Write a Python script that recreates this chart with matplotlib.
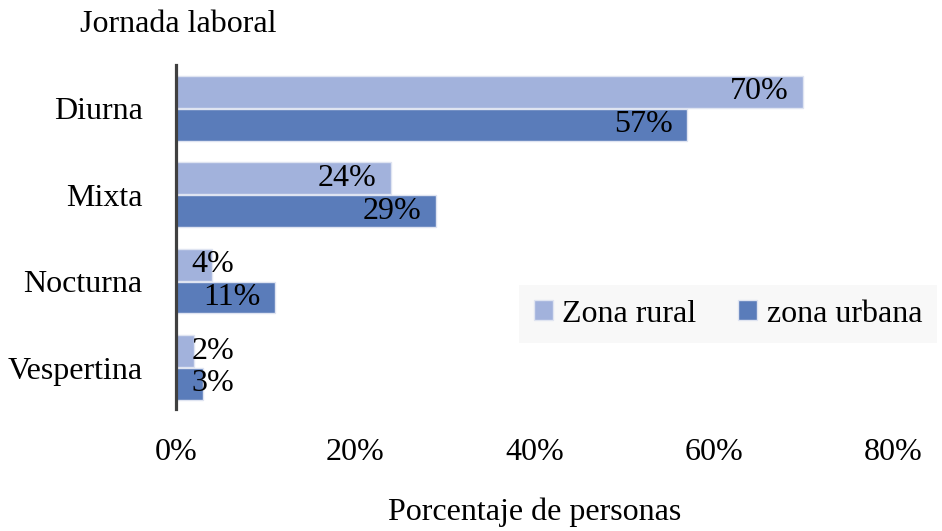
import numpy as np
import matplotlib
matplotlib.use('Agg')
import matplotlib.pyplot as plt

plt.rcParams['font.family'] = ['Liberation Serif', 'DejaVu Serif']

# datos
categorias = ['Diurna', 'Mixta', 'Nocturna', 'Vespertina']
zona_rural = [70, 24, 4, 2]
zona_urbana = [57, 29, 11, 3]
ticks_x = [0, 20, 40, 60, 80]

color_rural = '#a2b2dc'
color_urbana = '#5a7cba'
fs = 23

fig = plt.figure(figsize=(9.42, 5.31), dpi=100)
ax = fig.add_axes([176 / 942, 1 - 409 / 531, (893 - 176) / 942, (409 - 65) / 531])

y = np.arange(len(categorias))
alto = 0.37
off = 0.19
b1 = ax.barh(y - off, zona_rural, height=alto, color=color_rural,
             edgecolor='#dfe4f1', linewidth=1, label='Zona rural')
b2 = ax.barh(y + off, zona_urbana, height=alto, color=color_urbana,
             edgecolor='#dfe4f1', linewidth=1, label='zona urbana')

# etiquetas de valor (estilo "extremo interno")
for serie, dy in ((zona_rural, -off), (zona_urbana, off)):
    for i, v in enumerate(serie):
        if v >= 8:
            ax.text(v - 1.6, i + dy, f'{v}%', ha='right', va='center', fontsize=fs)
        else:
            ax.text(1.7, i + dy, f'{v}%', ha='left', va='center', fontsize=fs)

ax.set_xlim(0, 80)
ax.set_ylim(3.48, -0.5)
ax.set_yticks(y)
ax.set_yticklabels(categorias, fontsize=fs)
ax.set_xticks(ticks_x)
ax.set_xticklabels([f'{t}%' for t in ticks_x], fontsize=fs)
ax.tick_params(axis='both', length=0)
ax.tick_params(axis='x', pad=21)
ax.tick_params(axis='y', pad=24)

for s in ('top', 'right', 'bottom'):
    ax.spines[s].set_visible(False)
ax.spines['left'].set_color('#404040')
ax.spines['left'].set_linewidth(2.3)

ax.set_xlabel('Porcentaje de personas', fontsize=fs, labelpad=22)
fig.text(80 / 942, 1 - 24 / 531, 'Jornada laboral', fontsize=fs, ha='left', va='center')

leg = fig.legend(handles=[b1, b2], loc='center', ncol=2,
                 bbox_to_anchor=(728 / 942, 1 - 314 / 531),
                 fontsize=fs, frameon=True, fancybox=False,
                 handlelength=0.6, handleheight=0.6, handletextpad=0.3,
                 columnspacing=1.3, borderpad=0.45, borderaxespad=0)
leg.get_frame().set_facecolor('#f8f8f8')
leg.get_frame().set_edgecolor('none')
leg.get_frame().set_alpha(1)

fig.savefig('out.png', dpi=100)
